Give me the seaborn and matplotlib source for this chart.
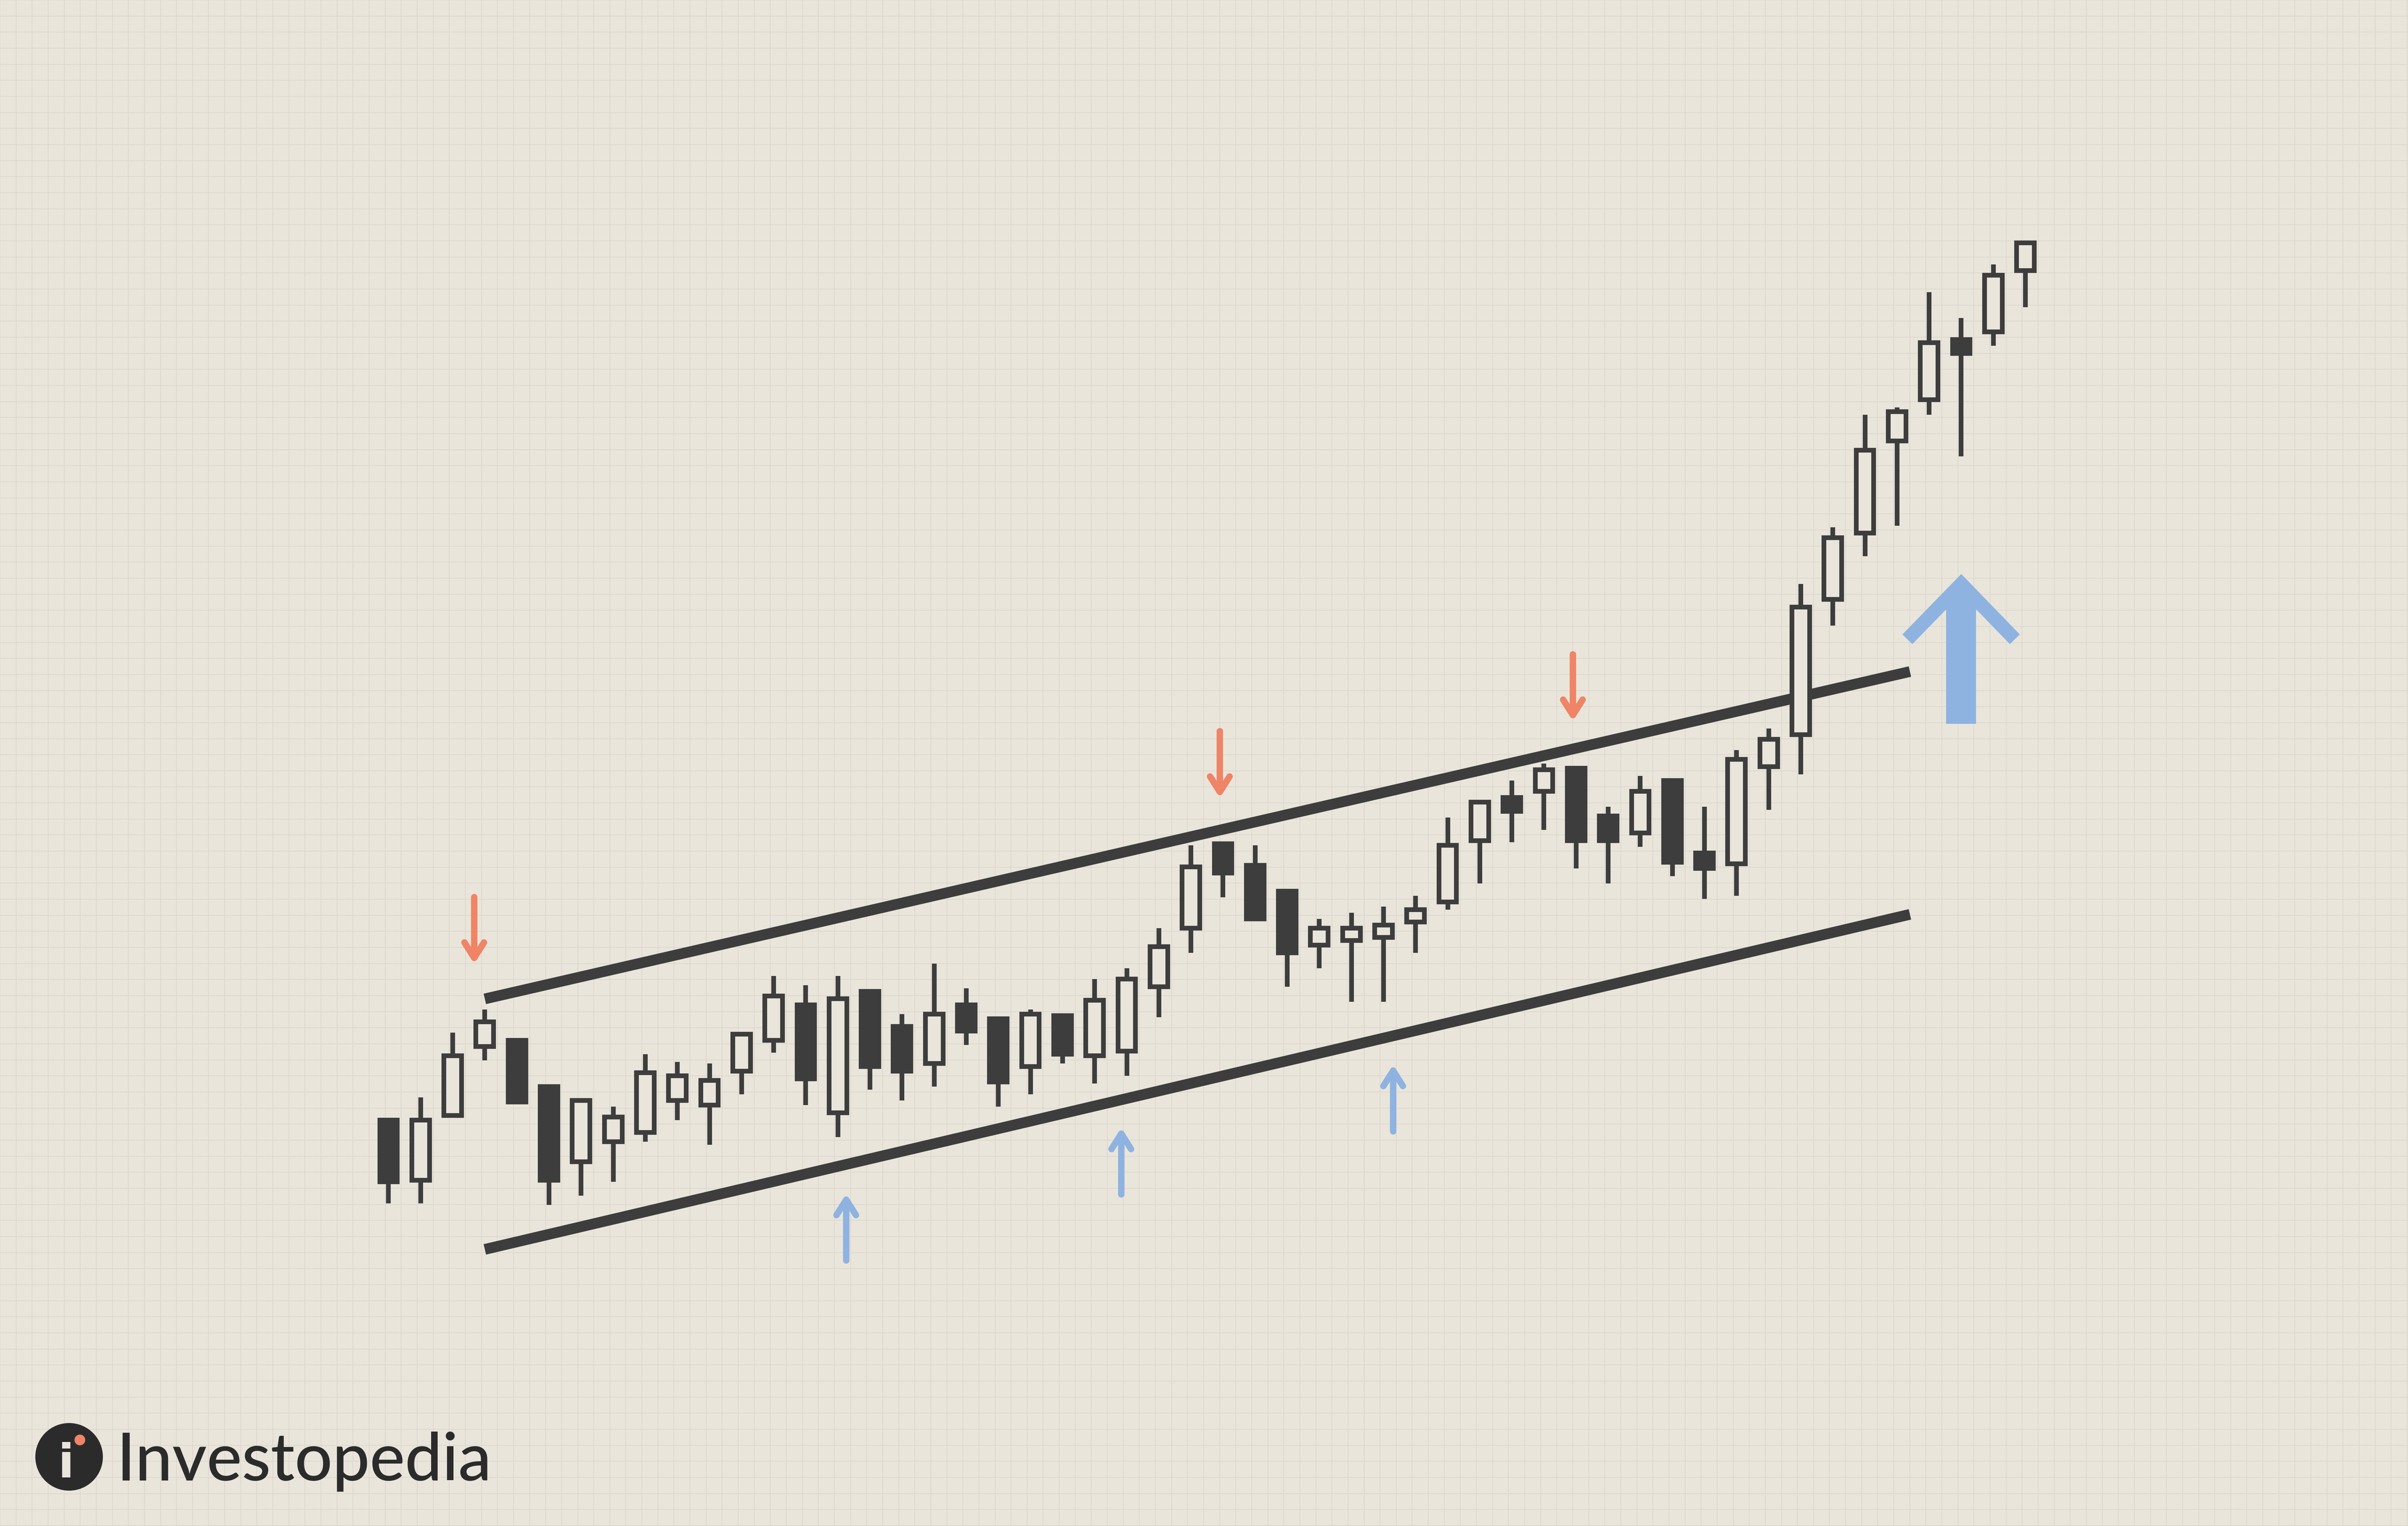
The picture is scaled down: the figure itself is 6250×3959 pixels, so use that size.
import numpy as np
import pandas as pd
import seaborn as sns
import matplotlib.pyplot as plt
from matplotlib.patches import Ellipse

# candle data (price axis drawn inverted: smaller value = higher on chart)
body_top = [729,729,687,665,677,707,716,727,698,700,703,673,648,654,650,645,668,660,654,663,660,661,651,637,616,564,549,563,580,604,604,602,592,550,522,519,501,500,531,515,508,555,494,481,395,350,293,268,223,221,179,158]
body_bot = [769,768,726,681,717,768,756,743,737,716,719,697,677,702,724,694,697,692,671,704,694,686,687,684,642,604,568,598,620,615,612,610,600,587,547,528,515,547,547,542,561,565,562,499,478,390,347,287,260,230,216,176]
wick_top = [729,714,672,657,677,707,716,720,686,691,692,673,635,641,635,645,660,627,643,663,657,660,637,630,604,550,549,550,580,598,594,590,583,532,522,508,497,500,525,505,508,525,488,474,380,343,270,265,190,207,172,158]
wick_bot = [783,783,726,690,717,784,778,769,743,729,745,712,685,719,740,709,716,707,680,720,712,692,705,700,662,620,584,598,642,630,652,652,620,592,575,548,540,565,575,551,570,585,583,527,504,407,362,342,270,297,225,200]
filled   = [1,0,0,0,1,1,0,0,0,0,0,0,0,1,0,1,1,0,1,1,0,1,0,0,0,0,1,1,1,0,0,0,0,0,0,1,0,1,1,0,1,1,0,0,0,0,0,0,0,1,0,0]
idx = np.arange(len(body_top))

upper_x = [3.0, 47.4]; upper_y = [650, 437]
lower_x = [3.0, 47.4]; lower_y = [813, 595]
red_x = [2.67, 25.9, 36.9]; red_top = [581, 473, 423]; red_len = 49
blue_x = [14.26, 22.83, 31.3]; blue_bot = [823, 780, 739]; blue_len = 49

df = pd.DataFrame(dict(i=idx, bt=body_top, bb=body_bot, wt=wick_top, wb=wick_bot, f=filled))

sns.set_theme(style="white")
bg = "#e9e5db"
fig = plt.figure(figsize=(6250/400, 3959/400), dpi=400, facecolor=bg)
ax = fig.add_axes([0, 0, 1, 1], facecolor=bg)
s = 20.9
ax.set_xlim(-253/s, (1568-253)/s)
ax.set_ylim(993, 0)

for gx in np.arange(0, 1568, 10.45):
    ax.axvline((gx-253)/s, color="#dcd8ce", lw=0.35, zorder=0)
for gy in np.arange(0, 993, 10.45):
    ax.axhline(gy, color="#dcd8ce", lw=0.35, zorder=0)

dark = "#3d3d3d"
for lx, ly in [(upper_x, upper_y), (lower_x, lower_y)]:
    sns.lineplot(x=lx, y=ly, ax=ax, color=dark, lw=5, zorder=2, solid_capstyle="butt")

for r in df.itertuples():
    ax.vlines(r.i, r.wt, r.wb, color=dark, lw=2.2, zorder=3)
    ax.bar(r.i, r.bb-r.bt, bottom=r.bt, width=0.55,
           color=dark if r.f else bg, edgecolor=dark, lw=2.2, zorder=4)

red = "#ef8466"; blue = "#8fb3e0"
for x, t in zip(red_x, red_top):
    ax.annotate("", xy=(x, t+red_len), xytext=(x, t),
                arrowprops=dict(arrowstyle="->,head_length=0.6,head_width=0.38", color=red, lw=3))
for x, b in zip(blue_x, blue_bot):
    ax.annotate("", xy=(x, b-blue_len), xytext=(x, b),
                arrowprops=dict(arrowstyle="->,head_length=0.6,head_width=0.38", color=blue, lw=3))
# big arrow
ax.plot([49.0, 49.0], [471, 385], color=blue, lw=14, solid_capstyle="butt", zorder=5)
ax.plot([(1242-253)/s, 49.0, (1312-253)/s], [416, 380, 416], color=blue, lw=6.5,
        solid_capstyle="butt", solid_joinstyle="miter", zorder=5)

ax.set_axis_off()

# logo (circle in pixel-like coords; one x unit = s px)
ax.add_patch(Ellipse(((45-253)/s, 948), 44/s, 44, facecolor="#2b2b2b", edgecolor="none", zorder=6))
ax.text((43-253)/s, 953, "i", color=bg, fontsize=22, fontweight="bold",
        ha="center", va="center", family="DejaVu Sans", zorder=7)
ax.add_patch(Ellipse(((52-253)/s, 937), 7/s, 7, facecolor=red, edgecolor="none", zorder=8))
ax.text((76-253)/s, 951, "Investopedia", color="#2b2b2b", fontsize=31,
        ha="left", va="center", family="Lato", fontweight="medium", zorder=7)

fig.savefig("out.png", dpi=400, facecolor=bg)
